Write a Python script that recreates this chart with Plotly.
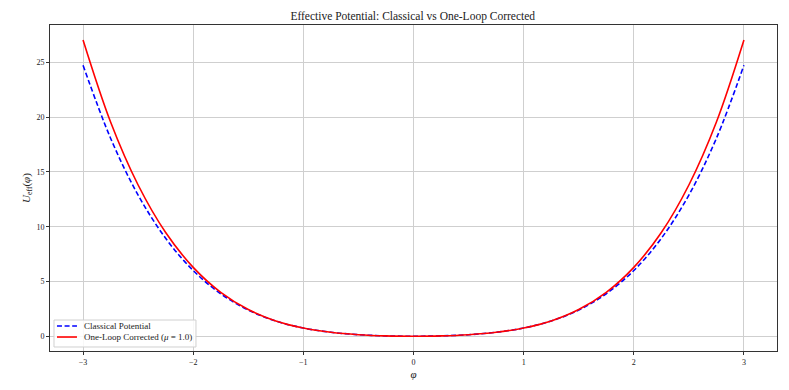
"""
Effective potential: classical curve vs one-loop corrected curve.
"""
import plotly.graph_objects as go

# field values and potentials
phi = [-3.0, -2.75, -2.5, -2.25, -2.0, -1.75, -1.5, -1.25, -1.0, -0.75, -0.5, -0.25,
       0.0, 0.25, 0.5, 0.75, 1.0, 1.25, 1.5, 1.75, 2.0, 2.25, 2.5, 2.75, 3.0]
u_classical = [24.75, 18.08, 12.89, 8.94, 6.0, 3.88, 2.39, 1.39, 0.75, 0.36, 0.14, 0.03,
               0.0, 0.03, 0.14, 0.36, 0.75, 1.39, 2.39, 3.88, 6.0, 8.94, 12.89, 18.08, 24.75]
u_one_loop = [27.05, 19.56, 13.81, 9.47, 6.29, 4.01, 2.44, 1.40, 0.75, 0.355, 0.136, 0.027,
              0.0, 0.027, 0.136, 0.355, 0.75, 1.40, 2.44, 4.01, 6.29, 9.47, 13.81, 19.56, 27.05]

x_ticks = [-3, -2, -1, 0, 1, 2, 3]
y_ticks = [0, 5, 10, 15, 20, 25]

names = ["Classical Potential", "One-Loop Corrected (<i>μ</i> = 1.0)"]
colors = ["blue", "red"]
dashes = ["5px,2.6px", "solid"]

serif = "Liberation Serif, DejaVu Serif, serif"
ink = "#222222"

fig = go.Figure()
for ys, name, color, dash in zip([u_classical, u_one_loop], names, colors, dashes):
    fig.add_trace(go.Scatter(
        x=phi, y=ys, mode="lines", name=name,
        line=dict(color=color, width=1.6, dash=dash, shape="spline"),
    ))

axis_style = dict(
    showgrid=True, gridcolor="#cfcfcf", gridwidth=1,
    showline=True, linecolor="#333333", linewidth=1, mirror=True,
    ticks="outside", ticklen=3, tickcolor="#333333",
    zeroline=False, automargin=False,
    tickfont=dict(family=serif, size=8, color=ink),
)

fig.update_xaxes(range=[-3.3, 3.3], tickvals=x_ticks,
                 title=dict(text="<i>φ</i>", font=dict(family=serif, size=11, color=ink), standoff=4),
                 **axis_style)
fig.update_yaxes(range=[-1.35, 28.42], tickvals=y_ticks,
                 title=dict(text="<i>U</i><sub>eff</sub>(<i>φ</i>)", font=dict(family=serif, size=11, color=ink), standoff=3),
                 **axis_style)

# compact matplotlib-style legend, lower left corner
fig.add_shape(type="rect", xref="paper", yref="paper", x0=0.0055, x1=0.2008, y0=0.0123, y1=0.095,
              line=dict(color="#d0d0d0", width=1), fillcolor="rgba(255,255,255,0.85)", layer="above")
for i, (name, color, dash) in enumerate(zip(names, colors, dashes)):
    yy = 0.0767 - i * 0.0338
    fig.add_shape(type="line", xref="paper", yref="paper", x0=0.0096, x1=0.0371, y0=yy, y1=yy,
                  line=dict(color=color, width=1.6, dash=dash), layer="above")
    fig.add_annotation(x=0.044, y=yy, xref="paper", yref="paper", text=name, showarrow=False,
                       xanchor="left", yanchor="middle",
                       font=dict(family=serif, size=9, color=ink))

fig.update_layout(
    width=789, height=390,
    # page body adds an 8px offset, so margins are trimmed by that amount
    margin=dict(l=42, r=20, t=17, b=47),
    paper_bgcolor="white", plot_bgcolor="white",
    title=dict(text="Effective Potential: Classical vs One-Loop Corrected",
               font=dict(family=serif, size=11.5, color=ink),
               x=0.513, xanchor="center", y=0.979, yanchor="middle"),
    showlegend=False,
)

fig.write_html("out.html")
